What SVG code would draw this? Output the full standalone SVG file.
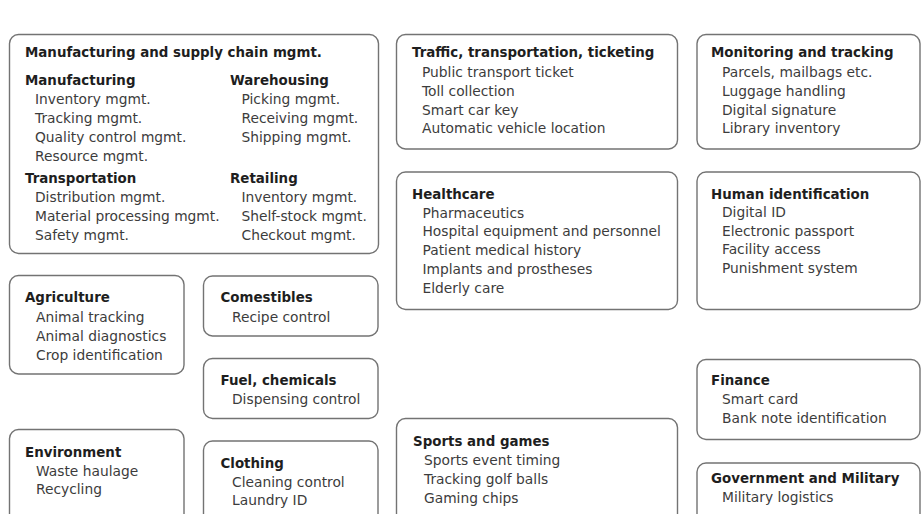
<svg xmlns="http://www.w3.org/2000/svg" width="921" height="514" viewBox="0 0 921 514">
<style>
.box{fill:#ffffff;stroke:#737373;stroke-width:1.4}
.h{font-family:"DejaVu Sans",Verdana,sans-serif;font-size:13.4px;font-weight:bold;fill:#1e1e1e}
.i{font-family:"DejaVu Sans",Verdana,sans-serif;font-size:13.8px;fill:#3c3c3c}
</style>
<rect x="0" y="0" width="921" height="514" fill="#ffffff"/>
<g id="manufacturing">
<rect class="box" x="9.5" y="34.5" width="369" height="219" rx="9"/>
<text class="h" x="25" y="56.5">Manufacturing and supply chain mgmt.</text>
<text class="h" x="25" y="84.5">Manufacturing</text>
<text class="i" x="35" y="104">Inventory mgmt.</text>
<text class="i" x="35" y="123">Tracking mgmt.</text>
<text class="i" x="35" y="142">Quality control mgmt.</text>
<text class="i" x="35" y="161">Resource mgmt.</text>
<text class="h" x="25" y="182.5">Transportation</text>
<text class="i" x="35" y="202">Distribution mgmt.</text>
<text class="i" x="35" y="221">Material processing mgmt.</text>
<text class="i" x="35" y="240">Safety mgmt.</text>
<text class="h" x="230" y="84.5">Warehousing</text>
<text class="i" x="241.5" y="104">Picking mgmt.</text>
<text class="i" x="241.5" y="123">Receiving mgmt.</text>
<text class="i" x="241.5" y="142">Shipping mgmt.</text>
<text class="h" x="230" y="182.5">Retailing</text>
<text class="i" x="241.5" y="202">Inventory mgmt.</text>
<text class="i" x="241.5" y="221">Shelf-stock mgmt.</text>
<text class="i" x="241.5" y="240">Checkout mgmt.</text>
</g>
<g id="traffic">
<rect class="box" x="396.5" y="34.5" width="281" height="114.5" rx="9"/>
<text class="h" x="412" y="56.5">Traffic, transportation, ticketing</text>
<text class="i" x="422" y="77">Public transport ticket</text>
<text class="i" x="422" y="96">Toll collection</text>
<text class="i" x="422" y="114.7">Smart car key</text>
<text class="i" x="422" y="133.4">Automatic vehicle location</text>
</g>
<g id="monitoring">
<rect class="box" x="697" y="34.5" width="223" height="114.5" rx="9"/>
<text class="h" x="711" y="56.5">Monitoring and tracking</text>
<text class="i" x="722" y="77">Parcels, mailbags etc.</text>
<text class="i" x="722" y="96">Luggage handling</text>
<text class="i" x="722" y="114.7">Digital signature</text>
<text class="i" x="722" y="133.4">Library inventory</text>
</g>
<g id="healthcare">
<rect class="box" x="396.5" y="172" width="281" height="137.5" rx="9"/>
<text class="h" x="412" y="199">Healthcare</text>
<text class="i" x="422.5" y="217.5">Pharmaceutics</text>
<text class="i" x="422.5" y="236.3">Hospital equipment and personnel</text>
<text class="i" x="422.5" y="255">Patient medical history</text>
<text class="i" x="422.5" y="273.8">Implants and prostheses</text>
<text class="i" x="422.5" y="292.5">Elderly care</text>
</g>
<g id="human-identification">
<rect class="box" x="697" y="172" width="223" height="137.5" rx="9"/>
<text class="h" x="711" y="199">Human identification</text>
<text class="i" x="722" y="217">Digital ID</text>
<text class="i" x="722" y="235.5">Electronic passport</text>
<text class="i" x="722" y="254.2">Facility access</text>
<text class="i" x="722" y="273">Punishment system</text>
</g>
<g id="agriculture">
<rect class="box" x="9.5" y="275.5" width="174.5" height="98.5" rx="9"/>
<text class="h" x="25" y="302.3">Agriculture</text>
<text class="i" x="36" y="322.3">Animal tracking</text>
<text class="i" x="36" y="341">Animal diagnostics</text>
<text class="i" x="36" y="360">Crop identification</text>
</g>
<g id="comestibles">
<rect class="box" x="203.5" y="276" width="174.5" height="60" rx="9"/>
<text class="h" x="220.5" y="302.3">Comestibles</text>
<text class="i" x="232" y="322.3">Recipe control</text>
</g>
<g id="fuel-chemicals">
<rect class="box" x="203.5" y="358.5" width="174.5" height="60" rx="9"/>
<text class="h" x="220.5" y="385">Fuel, chemicals</text>
<text class="i" x="232" y="404.3">Dispensing control</text>
</g>
<g id="environment">
<rect class="box" x="9.5" y="429.5" width="174.5" height="95" rx="9"/>
<text class="h" x="25" y="456.7">Environment</text>
<text class="i" x="36" y="475.7">Waste haulage</text>
<text class="i" x="36" y="494">Recycling</text>
</g>
<g id="clothing">
<rect class="box" x="203.5" y="441" width="174.5" height="85" rx="9"/>
<text class="h" x="220.5" y="467.7">Clothing</text>
<text class="i" x="232" y="486.7">Cleaning control</text>
<text class="i" x="232" y="505">Laundry ID</text>
</g>
<g id="sports-games">
<rect class="box" x="396.5" y="418.5" width="281" height="105" rx="9"/>
<text class="h" x="413" y="445.8">Sports and games</text>
<text class="i" x="424" y="465.2">Sports event timing</text>
<text class="i" x="424" y="484.4">Tracking golf balls</text>
<text class="i" x="424" y="503.4">Gaming chips</text>
</g>
<g id="finance">
<rect class="box" x="697" y="359.5" width="223" height="80" rx="9"/>
<text class="h" x="711" y="385">Finance</text>
<text class="i" x="722" y="404">Smart card</text>
<text class="i" x="722" y="422.7">Bank note identification</text>
</g>
<g id="government-military">
<rect class="box" x="697" y="463" width="223" height="65" rx="9"/>
<text class="h" x="711" y="482.7">Government and Military</text>
<text class="i" x="722" y="501.7">Military logistics</text>
</g>
<g id="connectors"></g>
</svg>
